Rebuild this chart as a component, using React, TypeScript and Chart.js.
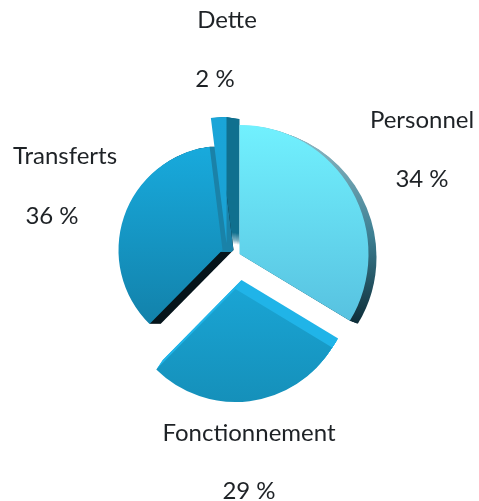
import React, { useEffect, useRef } from "react";
import { Chart, registerables } from "chart.js";

Chart.register(...registerables);

const categories = ["Personnel", "Fonctionnement", "Transferts", "Dette"];
const values = [34, 29, 36, 2];
const percentLabels = ["34 %", "29 %", "36 %", "2 %"];

const topColors = ["#72f2ff", "#1aa6d6", "#19b0e4", "#1aa5d8"];
const bottomColors = ["#55bddd", "#1590ba", "#127ea6", "#1a9fd0"];

// per-slice geometry: centre shift (dx, dy), radius, side-face shift
const sliceStyle = [
  { dx: 0, dy: 9, r: 129, side: [8, 3] },
  { dx: -4, dy: 44, r: 113, side: [6, -9] },
  { dx: -17, dy: 5, r: 104, side: [11, 0] },
  { dx: -13, dy: -2, r: 126, side: [13, 2] },
];
const sideColors = ["#3d7f92", "#20b4e8", "#06141a", "#10708f"];
const personnelSideStops = ["#8fb9c4", "#3d7f92", "#06202a"];

const labelPositions = [
  { x: 422, y: 120, x2: 422, y2: 179 },
  { x: 249, y: 433, x2: 249, y2: 491 },
  { x: 65, y: 156, x2: 52, y2: 216 },
  { x: 227, y: 20, x2: 215, y2: 79 },
];

const geometryPlugin = {
  id: "geometry",
  afterDatasetsUpdate(chart: any) {
    chart.getDatasetMeta(0).data.forEach((arc: any, i: number) => {
      const s = sliceStyle[i];
      arc.x += s.dx;
      arc.y += s.dy;
      arc.outerRadius = s.r;
    });
  },
};

const sidePlugin = {
  id: "sides",
  beforeDatasetsDraw(chart: any) {
    const { ctx } = chart;
    const arcs = chart.getDatasetMeta(0).data;
    const drawSide = (i: number, color: any, clipBottom?: number) => {
      const arc = arcs[i];
      const [sx, sy] = sliceStyle[i].side;
      const steps = Math.max(Math.abs(sx), Math.abs(sy));
      ctx.save();
      if (clipBottom !== undefined) {
        ctx.beginPath();
        ctx.rect(0, 0, chart.width, clipBottom);
        ctx.clip();
      }
      ctx.fillStyle = color;
      for (let k = 1; k <= steps; k++) {
        ctx.save();
        ctx.translate((sx * k) / steps, (sy * k) / steps);
        ctx.beginPath();
        ctx.moveTo(arc.x, arc.y);
        ctx.arc(arc.x, arc.y, arc.outerRadius, arc.startAngle, arc.endAngle);
        ctx.closePath();
        ctx.fill();
        ctx.restore();
      }
      ctx.restore();
    };
    const pg = ctx.createLinearGradient(0, 130, 0, 335);
    personnelSideStops.forEach((c, i) => pg.addColorStop(i / (personnelSideStops.length - 1), c));
    drawSide(3, sideColors[3]);
    drawSide(0, pg);
    drawSide(2, sideColors[2]);
    drawSide(2, "#1a82a8", 252);
    drawSide(1, sideColors[1]);
  },
};

const labelPlugin = {
  id: "labels",
  afterDraw(chart: any) {
    const { ctx } = chart;
    ctx.save();
    ctx.fillStyle = "#1e2226";
    ctx.font = '24px Lato, "Open Sans", sans-serif';
    ctx.textAlign = "center";
    ctx.textBaseline = "middle";
    categories.forEach((name, i) => {
      const p = labelPositions[i];
      ctx.fillText(name, p.x, p.y);
      ctx.fillText(percentLabels[i], p.x2, p.y2);
    });
    ctx.restore();
  },
};

export default function App() {
  const ref = useRef<HTMLCanvasElement>(null);
  useEffect(() => {
    const chart = new Chart(ref.current!, {
      type: "pie",
      data: {
        labels: categories,
        datasets: [
          {
            data: values,
            borderWidth: 0,
            backgroundColor: (c: any) => {
              const area = c.chart.chartArea;
              if (!area) return topColors[c.dataIndex];
              const g = c.chart.ctx.createLinearGradient(
                0,
                c.dataIndex === 1 ? 280 : 120,
                0,
                c.dataIndex === 1 ? 402 : 340
              );
              g.addColorStop(0, topColors[c.dataIndex]);
              g.addColorStop(1, bottomColors[c.dataIndex]);
              return g;
            },
          },
        ],
      },
      options: {
        responsive: false,
        animation: false,
        radius: 122,
        layout: { padding: { bottom: 11 } },
        plugins: { legend: { display: false }, tooltip: { enabled: false } },
      } as any,
      plugins: [geometryPlugin, sidePlugin, labelPlugin],
    });
    return () => chart.destroy();
  }, []);
  return (
    <canvas
      ref={ref}
      width={479}
      height={501}
      style={{ position: "absolute", left: 0, top: 0, display: "block", background: "#fff" }}
    />
  );
}
